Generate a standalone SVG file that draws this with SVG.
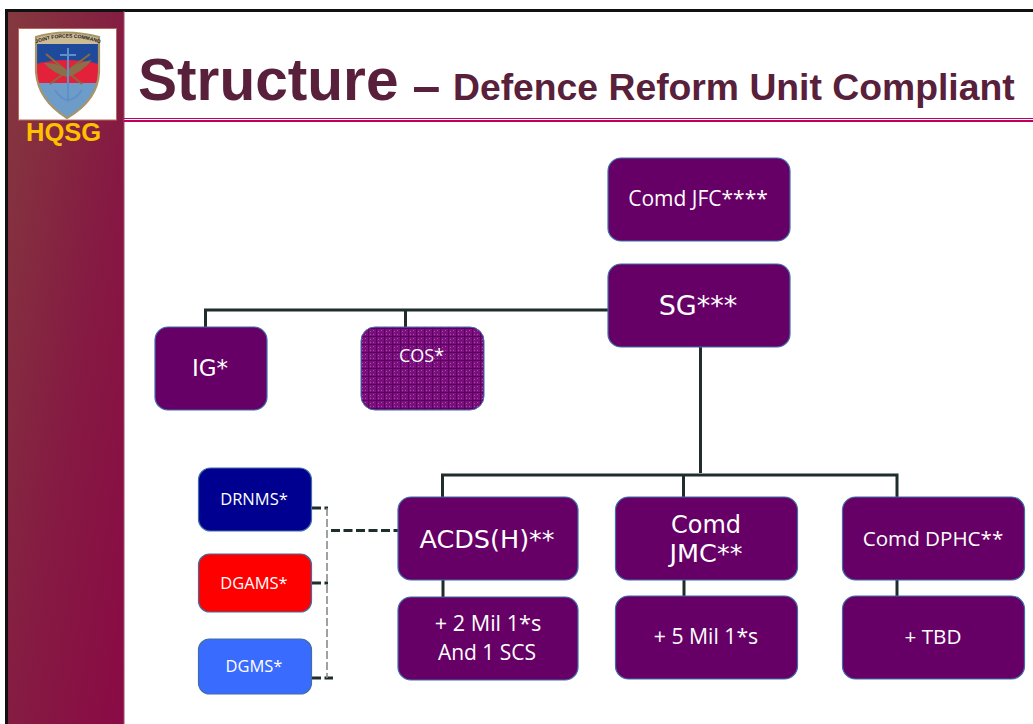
<svg xmlns="http://www.w3.org/2000/svg" width="1033" height="724" viewBox="0 0 1033 724">
<style>
.n{fill:#660066;stroke:#3f6fa8;stroke-width:1.2}
.t{font-family:"Open Sans","Liberation Sans",sans-serif;fill:#fff;text-anchor:middle}
.d{font-family:"DejaVu Sans",sans-serif;fill:#fff;text-anchor:middle}
.c{fill:none;stroke:#1f2d2d;stroke-width:3}
.k{fill:none;stroke:#1f2d2d;stroke-width:3;stroke-dasharray:9 3.500}
.g{fill:none;stroke:#8a8a8a;stroke-width:1.600;stroke-dasharray:8 3}
.h{font-family:"Liberation Sans",sans-serif;font-weight:700;fill:#58203a}
</style>
<defs>
<linearGradient id="side" x1="0" x2="1" y1="0" y2="1"><stop offset="0" stop-color="#843a3f"/><stop offset="0.55" stop-color="#851a42"/><stop offset="1" stop-color="#8a0a45"/></linearGradient>
<pattern id="weave" width="8" height="8" patternUnits="userSpaceOnUse"><rect width="8" height="8" fill="#7c0f7e"/><path d="M0 .5H8M.5 0V8" stroke="#5a005e" stroke-width="1"/><path d="M2 4l1-1M5 7l1-1M5 3l1-1M2 7l1-1" stroke="#a850a8" stroke-width="1"/></pattern>
<clipPath id="sh"><path d="M36 37Q65 28 99 37V72Q98 100 67 118Q38 100 36 72Z"/></clipPath>
<path id="arc" d="M37 43Q67 32 99 43"/>
</defs>
<rect width="1033" height="724" fill="#fff"/>
<g id="frame">
<rect x="6" y="11" width="118" height="713" fill="url(#side)"/>
<path d="M6.500 724V10.500H1033" fill="none" stroke="#111" stroke-width="3"/>
<path d="M124 11V724" stroke="#a04a6a" stroke-width="1"/>
<path d="M124 118.500H1033" stroke="#c00060" stroke-width="1.200"/>
<path d="M124 121H1033" stroke="#c00060" stroke-width="1.800"/>
</g>
<g id="logo">
<rect x="18.500" y="28.500" width="98" height="91.500" fill="#fff" stroke="#b56a5a" stroke-width="1"/>
<g clip-path="url(#sh)">
<rect x="36" y="28" width="64" height="90" fill="#1f4a9c"/>
<rect x="36" y="28" width="64" height="16" fill="#cdbb95"/>
<path d="M36 64Q65 56 99 64V84H36Z" fill="#e4213b"/>
<path d="M36 83H99V118H36Z" fill="#6d9cc8"/>
<path d="M46 54L82 84M90 54L50 84" stroke="#8a6a40" stroke-width="2"/>
<path d="M44 63Q58 62 67 70Q78 62 92 60Q80 74 67 77Q54 74 44 63Z" fill="#8a6f4a"/>
<path d="M68 48V102M60 55H76M55 90Q68 110 82 90" fill="none" stroke="#5f8fc8" stroke-width="2"/>
</g>
<path d="M36 37Q65 28 99 37V72Q98 100 67 118Q38 100 36 72Z" fill="none" stroke="#a89468" stroke-width="2.200"/>
<text font-family="Liberation Sans,sans-serif" font-size="5" font-weight="700" fill="#222"><textPath href="#arc" startOffset="50%" text-anchor="middle">JOINT FORCES COMMAND</textPath></text>
</g>
<g id="titles">
<text x="26" y="141" font-family="Liberation Sans,sans-serif" font-weight="700" font-size="25.500" fill="#ffc000">HQSG</text>
<text class="h" x="138" y="100" font-size="58.600">Structure</text>
<text class="h" x="412.500" y="103" font-size="50">–</text>
<text class="h" x="453" y="100" font-size="37.300">Defence Reform Unit Compliant</text>
</g>
<g id="connectors">
<path class="c" d="M608 310H205.500V327M405.500 310V327"/>
<path class="c" d="M700.500 346V473M442.500 497V475H897V497M683.500 475V497"/>
<path class="c" d="M443 580V597M684 580V596M897 580V596"/>
<path class="k" d="M331 530.500H398"/>
<path class="k" d="M312 508H328M312 583H328M312 678H333"/>
<path class="g" d="M327 508V678"/>
</g>
<g id="comd-jfc"><rect class="n" x="608" y="158" width="182" height="83" rx="13"/><text class="t" x="698" y="206" font-size="21">Comd JFC****</text></g>
<g id="sg"><rect class="n" x="608" y="264" width="182" height="83" rx="13"/><text class="d" x="698" y="315" font-size="27">SG***</text></g>
<g id="ig"><rect class="n" x="155" y="327" width="112" height="83" rx="13"/><text class="d" x="210" y="376" font-size="23">IG*</text></g>
<g id="cos"><rect x="361" y="327" width="123" height="83" rx="14" fill="url(#weave)" stroke="#3f6fa8" stroke-width="1"/><text class="t" x="421.500" y="362" font-size="18">COS*</text></g>
<g id="drnms"><rect class="n" style="fill:#000090" x="198.500" y="468" width="113" height="63" rx="12"/><text class="t" x="254" y="505" font-size="16.500">DRNMS*</text></g>
<g id="dgams"><rect class="n" style="fill:#ff0000" x="198.500" y="554" width="113" height="58" rx="11"/><text class="t" x="254" y="589" font-size="16.500">DGAMS*</text></g>
<g id="dgms"><rect class="n" style="fill:#3a6bff" x="198.500" y="639" width="113" height="55" rx="11"/><text class="t" x="254" y="672" font-size="16.500">DGMS*</text></g>
<g id="acds"><rect class="n" x="398" y="497" width="180" height="83" rx="13"/><text class="d" x="487" y="548" font-size="25.500">ACDS(H)**</text></g>
<g id="comd-jmc"><rect class="n" x="615.500" y="497" width="182" height="83" rx="13"/><text class="d" x="706" y="533" font-size="24">Comd</text><text class="d" x="706" y="562" font-size="25.500">JMC**</text></g>
<g id="comd-dphc"><rect class="n" x="842.500" y="497" width="182" height="83" rx="13"/><text class="t" x="933" y="546" font-size="20.600">Comd DPHC**</text></g>
<g id="mil2"><rect class="n" x="398" y="597" width="180" height="83" rx="13"/><text class="t" x="488" y="631" font-size="21.600">+ 2 Mil 1*s</text><text class="t" x="487" y="660" font-size="21">And 1 SCS</text></g>
<g id="mil5"><rect class="n" x="615.500" y="596" width="182" height="83" rx="13"/><text class="t" x="706" y="644" font-size="21.200">+ 5 Mil 1*s</text></g>
<g id="tbd"><rect class="n" x="842.500" y="596" width="182" height="83" rx="13"/><text class="t" x="933" y="644" font-size="20.700">+ TBD</text></g>
</svg>
